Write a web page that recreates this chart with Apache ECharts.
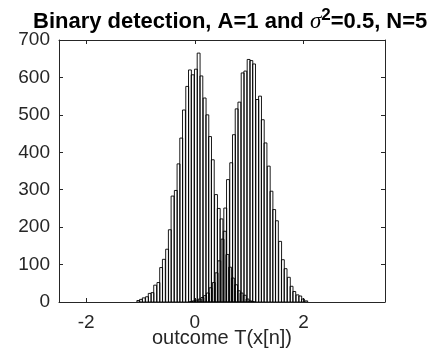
<!DOCTYPE html>
<html>
<head>
<meta charset="utf-8">
<script src="https://cdn.jsdelivr.net/npm/echarts@6/dist/echarts.min.js"></script>
<style>
  html, body { margin: 0; padding: 0; background: #fff; }
  #chart { width: 432px; height: 351px; }
</style>
</head>
<body>
<div id="chart"></div>
<script>
// histogram bins (bin centre, count)
var binWidth = 0.053;

var centersH0 = [-1.04, -0.99, -0.94, -0.88, -0.83, -0.78, -0.73, -0.67, -0.62, -0.57,
  -0.51, -0.46, -0.41, -0.35, -0.30, -0.25, -0.20, -0.14, -0.09, -0.04,
  0.02, 0.07, 0.12, 0.18, 0.23, 0.28, 0.33, 0.39, 0.44, 0.49,
  0.55, 0.60, 0.65, 0.70, 0.76, 0.81, 0.86, 0.92, 0.97, 1.02, 1.07];
var countsH0 = [4, 7, 11, 14, 23, 25, 45, 52, 92, 114,
  141, 193, 283, 298, 369, 438, 513, 576, 620, 607,
  622, 665, 604, 545, 500, 442, 380, 287, 250, 222,
  189, 127, 93, 64, 46, 30, 24, 18, 8, 3, 1];

var centersH1 = [-0.07, -0.02, 0.03, 0.09, 0.14, 0.19, 0.24, 0.29, 0.35, 0.40,
  0.45, 0.51, 0.56, 0.61, 0.67, 0.72, 0.77, 0.82, 0.88, 0.93,
  0.99, 1.04, 1.09, 1.15, 1.20, 1.25, 1.30, 1.36, 1.41, 1.46,
  1.51, 1.57, 1.62, 1.67, 1.73, 1.78, 1.83, 1.89, 1.94, 1.99, 2.05];
var countsH1 = [1, 3, 5, 8, 12, 17, 24, 38, 52, 78,
  110, 168, 251, 327, 372, 447, 516, 534, 612, 617,
  648, 645, 636, 541, 550, 487, 425, 363, 296, 247,
  217, 162, 113, 89, 66, 42, 28, 19, 16, 8, 3];

var xTicks = [-2, 0, 2];

var ink = '#262626';
var font = 'Liberation Sans, Arial, sans-serif';

function toBins(centers, counts) {
  return centers.map(function (c, i) {
    return [c - binWidth / 2, c + binWidth / 2, counts[i]];
  });
}

function renderBar(params, api) {
  var p0 = api.coord([api.value(0), api.value(2)]);
  var p1 = api.coord([api.value(1), 0]);
  return {
    type: 'rect',
    shape: { x: p0[0], y: p0[1], width: p1[0] - p0[0], height: p1[1] - p0[1] },
    style: { fill: 'rgba(255,255,255,0)', stroke: '#000', lineWidth: 0.9 }
  };
}

var chart = echarts.init(document.getElementById('chart'), null, { renderer: 'canvas' });

var xBase = {
  type: 'value', min: -2.5, max: 3.5,
  axisLine: { show: true, onZero: false, lineStyle: { color: ink, width: 1 } },
  splitLine: { show: false },
  axisTick: { show: true, inside: true, length: 4, customValues: xTicks, lineStyle: { color: ink } }
};
var yBase = {
  type: 'value', min: 0, max: 700, interval: 100,
  axisLine: { show: true, onZero: false, lineStyle: { color: ink, width: 1 } },
  splitLine: { show: false },
  axisTick: { show: true, inside: true, length: 4, lineStyle: { color: ink } }
};

chart.setOption({
  animation: false,
  backgroundColor: '#fff',
  title: {
    text: 'Binary detection, A=1 and {s|σ}{sup|2}=0.5, N=5',
    left: 28,
    top: 2,
    textStyle: {
      fontFamily: font, fontSize: 22, fontWeight: 'bold', color: '#000',
      rich: {
        s: { fontFamily: 'Liberation Serif, serif', fontStyle: 'italic', fontSize: 23, fontWeight: 'normal', color: '#000' },
        sup: { fontFamily: font, fontSize: 17, fontWeight: 'bold', color: '#000', padding: [0, 0, 12, 0] }
      }
    }
  },
  grid: { left: 59, right: 47, top: 40, bottom: 49, outerBoundsMode: 'none' },
  xAxis: [
    Object.assign({}, xBase, {
      position: 'bottom',
      name: 'outcome T(x[n])',
      nameLocation: 'middle',
      nameGap: 26,
      nameMoveOverlap: false,
      nameTextStyle: { fontFamily: font, fontSize: 20, color: ink },
      axisLabel: { customValues: xTicks, fontFamily: font, fontSize: 19, color: ink, margin: 11 }
    }),
    Object.assign({}, xBase, { position: 'top', axisLabel: { show: false } })
  ],
  yAxis: [
    Object.assign({}, yBase, {
      position: 'left',
      axisLabel: { fontFamily: font, fontSize: 19, color: ink, margin: 9 }
    }),
    Object.assign({}, yBase, { position: 'right', axisLabel: { show: false } })
  ],
  series: [
    {
      type: 'custom', renderItem: renderBar, clip: true,
      encode: { x: [0, 1], y: 2 },
      data: toBins(centersH0, countsH0)
    },
    {
      type: 'custom', renderItem: renderBar, clip: true,
      encode: { x: [0, 1], y: 2 },
      data: toBins(centersH1, countsH1)
    }
  ]
});
</script>
</body>
</html>
